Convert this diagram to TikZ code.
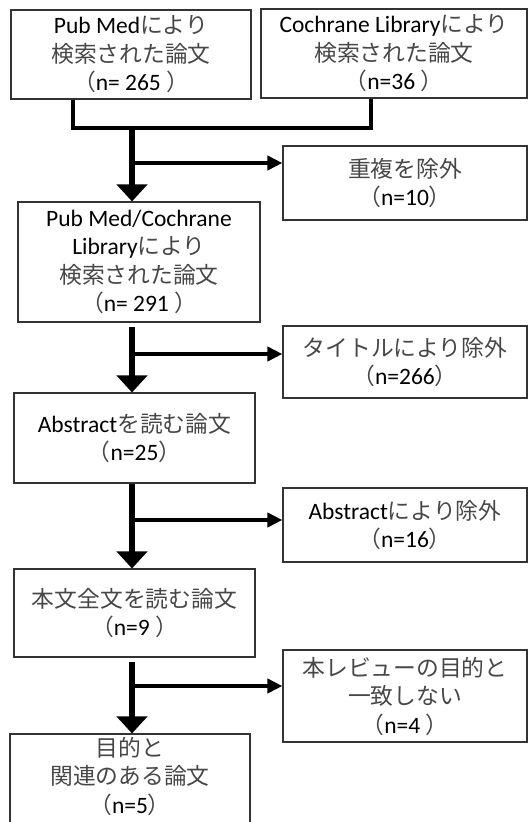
\documentclass[tikz,border=0pt]{standalone}
\usepackage{fontspec}
\setmainfont{Carlito}
\newfontfamily\jpfont{Noto Sans CJK JP}[Scale=0.97]
\usetikzlibrary{arrows.meta}
\newcommand\ja[1]{{\jpfont\color{black!72}#1}}

\begin{document}
\begin{tikzpicture}[x=1pt,y=-1pt,line join=miter,
  box/.style={draw=black!80,line width=1.1pt,inner sep=0pt,align=center,
    font=\fontsize{23.5}{28.5}\selectfont},
  mergeline/.style={line width=4pt},
  mainflow/.style={line width=6pt,-{Triangle[width=30pt,length=17pt]}},
  exclarrow/.style={line width=4pt,-{Triangle[width=14pt,length=15pt]}}]

   \useasboundingbox (0,0) rectangle (529,822);

     \path (131,54.5) node[box,minimum width=240pt,minimum height=89pt] (pubmed)
        {Pub Med\ja{により}\\\ja{検索された論文}\\\ja{（}n= 265 \ja{）}};
     \path (394,53.5) node[box,minimum width=266pt,minimum height=89pt] (cochrane)
        {Cochrane Library\ja{により}\\\ja{検索された論文}\\\ja{（}n=36 \ja{）}};
     \path (139,262) node[box,minimum width=242pt,minimum height=120pt] (merged)
        {Pub Med/Cochrane\\Library\ja{により}\\\ja{検索された論文}\\\ja{（}n= 291 \ja{）}};
     \path (405,183) node[box,minimum width=244pt,minimum height=74pt] (dup)
        {\ja{重複を除外}\\\ja{（}n=10\ja{）}};
     \path (405,362) node[box,minimum width=244pt,minimum height=72pt] (title)
        {\ja{タイトルにより除外}\\\ja{（}n=266\ja{）}};
     \path (134.5,438) node[box,minimum width=241pt,minimum height=90pt] (abstract)
        {Abstract\ja{を読む論文}\\\ja{（}n=25\ja{）}};
     \path (405,525) node[box,minimum width=244pt,minimum height=74pt] (absex)
        {Abstract\ja{により除外}\\\ja{（}n=16\ja{）}};
     \path (134.5,613) node[box,minimum width=241pt,minimum height=88pt] (fulltext)
        {\ja{本文全文を読む論文}\\\ja{（}n=9 \ja{）}};
     \path (405,696) node[box,minimum width=244pt,minimum height=92pt] (review)
        {\ja{本レビューの目的と}\\\ja{一致しない}\\\ja{（}n=4 \ja{）}};
     \path (130,794) node[box,minimum width=240pt,minimum height=120pt] (related) {};
     \path (130,776) node[box,draw=none] (relatedtext)
        {\ja{目的と}\\\ja{関連のある論文}\\\ja{（}n=5\ja{）}};

     \coordinate (trunk) at (132,128);
     \coordinate (b1) at (132,163);
     \coordinate (b2) at (132,354);
     \coordinate (b3) at (132,520);
     \coordinate (b4) at (132,686);

      \draw[mergeline] ([xshift=-58pt]pubmed.south) |- (trunk) -| ([xshift=-23pt]cochrane.south);
      \draw[mainflow] (trunk) -- (trunk |- merged.north);
      \draw[mainflow] ([yshift=-4pt]trunk |- merged.south) -- (trunk |- abstract.north);
      \draw[mainflow] (trunk |- abstract.south) -- (trunk |- fulltext.north);
      \draw[mainflow] ([yshift=-4pt]trunk |- fulltext.south) -- (trunk |- related.north);

      \draw[exclarrow] (b1) -- (b1 -| dup.west);
      \draw[exclarrow] (b2) -- (b2 -| title.west);
      \draw[exclarrow] (b3) -- (b3 -| absex.west);
      \draw[exclarrow] (b4) -- (b4 -| review.west);

   \end{tikzpicture}
\end{document}
